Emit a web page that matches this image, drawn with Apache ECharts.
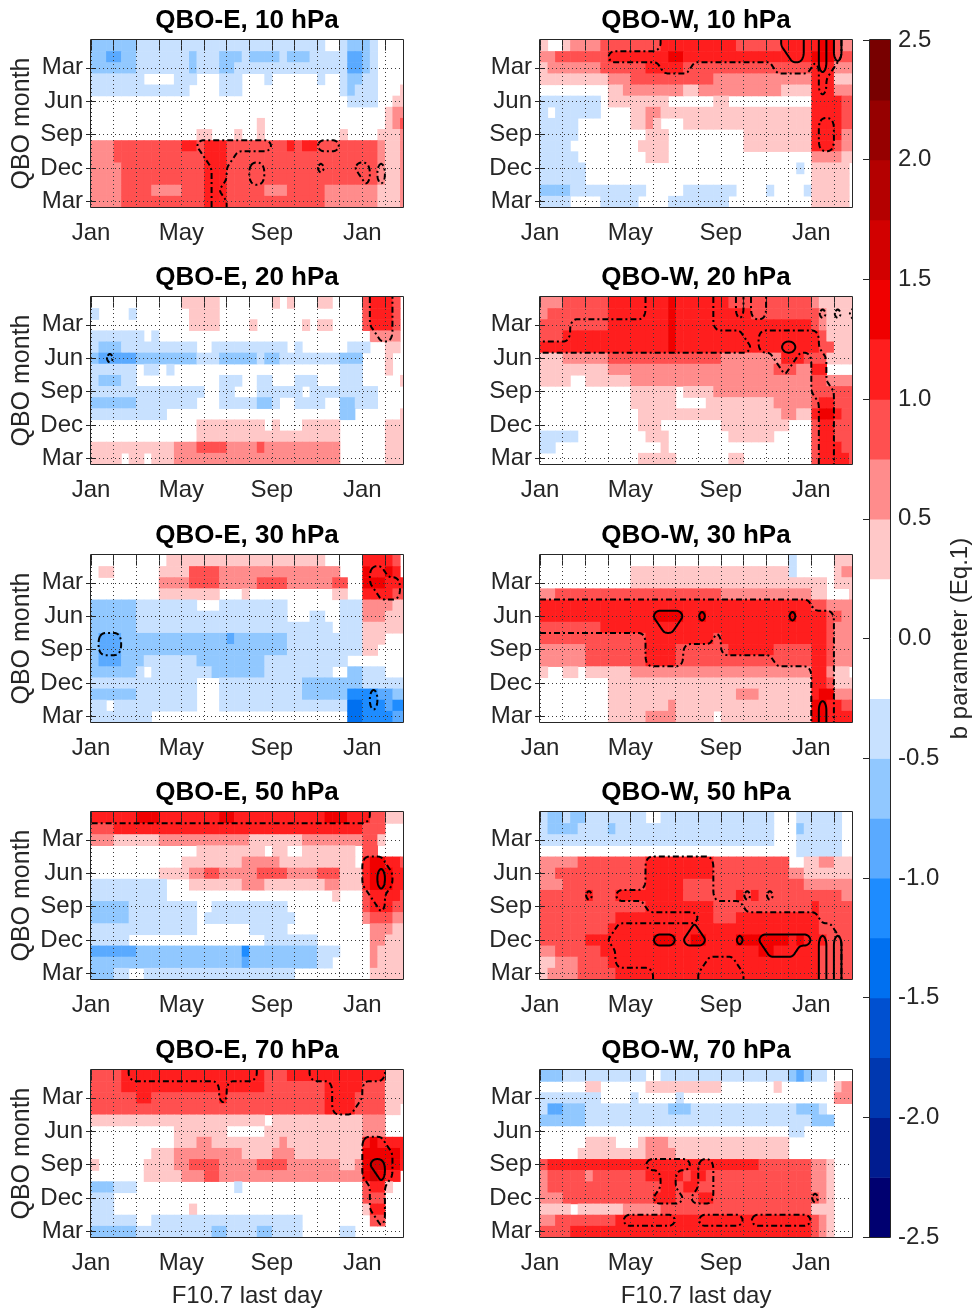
<!DOCTYPE html>
<html>
<head>
<meta charset="utf-8">
<script src="https://cdn.jsdelivr.net/npm/echarts@6/dist/echarts.min.js"></script>
<style>
html,body{margin:0;padding:0;background:#ffffff;}
#chart{width:977px;height:1311px;}
</style>
</head>
<body>
<div id="chart"></div>
<script>
// ---------------- tick labels / categories ----------------
const monthNames = ['Jan','Feb','Mar','Apr','May','Jun','Jul','Aug','Sep','Oct','Nov','Dec','Jan','Feb'];
const xLabelMonths = [0, 4, 8, 12];
const qboTickValues = [2, 5, 8, 11, 14];
const qboTickLabels = ['Mar', 'Jun', 'Sep', 'Dec', 'Mar'];
const pressureLevels = [10, 20, 30, 50, 70];
const phaseNames = ['QBO-E', 'QBO-W'];
const colorbarLevels = [-2.5,-2.25,-2,-1.75,-1.5,-1.25,-1,-0.75,-0.5,-0.25,0,0.25,0.5,0.75,1,1.25,1.5,1.75,2,2.25];
const posColors = ['#ffffff','#ffc8c8','#ff8c8c','#ff5050','#ff1e1e','#f00000','#d20000','#b40000','#960000','#780000'];
const negColors = ['#ffffff','#c8e1ff','#91c8ff','#5aaaff','#1e8cff','#0070f0','#0050d0','#0038b0','#001c90','#000070'];

// ---------------- data: b parameter, 15 QBO months x 42 ten-day bins (run-length: symbol+count) -----
// '0' |b|<0.25 ; '1'..'9' positive class ; 'a'..'i' negative class (0.25 steps)
const E10 = [
 "b6 a25 02 a b3 a 04",
 "b2 c2 b2 a7 b a3 b3 a b4 a b3 a5 c2 b a 04",
 "b6 a7 b a3 b2 a15 c2 b a 04",
 "a7 04 a3 03 a3 03 a 06 a 02 a b2 a2 04",
 "a13 04 a3 013 a b a3 03 1",
 "034 a4 02 12",
 "039 1 22",
 "022 1 016 1 2 3",
 "014 12 03 1 02 1 010 1 04 13 2",
 "23 3 38 42 3 43 38 4 3 42 37 3 2 1 1 2",
 "23 3 311 43 319 3 2 12 2",
 "24 311 43 319 3 2 12 2",
 "24 311 43 319 3 2 12 2",
 "24 34 24 33 43 35 23 35 26 2 13 2",
 "24 311 43 313 26 2 13 2"
];
const W10 = [
 "1 02 1 24 38 410 36 45 52 3 22",
 "22 37 48 52 417 53 33",
 "1 27 36 45 317 43 23",
 "19 23 311 213 43 13",
 "09 12 28 12 211 14 43 23",
 "a8 0 18 06 12 011 44 32",
 "a 0 a6 04 12 22 120 44 32",
 "a5 07 12 2 1 03 117 44 32",
 "a5 09 13 010 19 44 22",
 "a4 09 14 010 19 43 3 22",
 "a5 09 13 019 24 12",
 "a6 028 a 0 15 0",
 "a6 030 15 0",
 "b4 a10 05 a7 04 a 04 a 15 0",
 "a4 04 a5 04 a8 011 15 0"
];
const E20 = [
 "012 1 14 07 1 0 1 03 12 04 3 43 3 0",
 "a 04 a 07 14 019 3 43 3 0",
 "013 14 04 1 06 1 0 12 04 3 43 3 0",
 "a7 0 a 028 24 0",
 "a b3 a10 02 a10 0 a 06 a3 02 12 0",
 "b c5 b b7 a3 b5 a b2 a8 b3 03 1 02",
 "a6 0 a2 0 a 022 a3 03 1 02",
 "a b3 a2 011 a3 02 a2 03 a3 03 a3 05 1",
 "a15 02 a2 03 a6 0 a9 04",
 "b6 a8 03 a5 b2 a 02 a4 02 b2 a3 04",
 "a10 023 b2 06 1",
 "014 19 0 1 03 15 06 13",
 "014 119 06 13",
 "111 23 34 24 3 210 06 13",
 "14 0 12 0 13 222 06 13"
];
const W20 = [
 "23 36 46 42 5 44 43 33 34 34 2 14 1",
 "2 38 46 42 5 44 43 43 34 34 3 2 13 1",
 "39 48 5 412 44 42 3 2 13 1",
 "33 414 5 418 4 3 14",
 "417 5 418 4 32 12 1",
 "13 26 315 28 43 32 3 14",
 "19 222 33 22 42 04",
 "14 02 13 13 220 24 32 24",
 "012 16 0 14 29 24 34 32",
 "012 16 04 19 25 3 42 33",
 "013 119 22 12 4 52 4 32",
 "013 13 08 19 03 3 42 33",
 "a5 09 13 08 16 05 3 42 33",
 "a2 014 1 019 3 43 32",
 "013 15 07 12 09 3 44 3"
];
const E30 = [
 "010 121 05 44 3 0",
 "0 12 06 14 34 26 28 22 03 5 42 5 4 0",
 "09 24 34 25 34 26 32 02 53 4 42",
 "09 18 03 1 011 12 02 44 32",
 "b6 a8 03 a9 07 a3 24 12",
 "b6 a20 03 a2 02 a3 23 13",
 "b6 a11 a9 a6 0 a3 16",
 "b c3 b14 c b7 a7 a3 13 03",
 "b c3 b2 b20 a10 1 1 04",
 "b c3 b3 a7 b3 b6 a3 a8 02 06",
 "b6 a 0 a8 b7 a9 02 b2 a3 03",
 "a14 03 a11 b6 b2 a4 a2",
 "b6 a8 03 a11 b6 d4 c2 b2",
 "a2 0 a3 a8 03 a17 e2 d3 c d2",
 "a8 026 e2 d4 c2"
];
const W30 = [
 "033 a 05 13",
 "012 121 a 05 1 22",
 "012 126 0 13",
 "22 322 212 12 0 02 1",
 "436 32 23 2",
 "415 54 42 5 411 5 42 42 32 22",
 "38 428 42 3 23",
 "314 45 44 3 412 42 3 23",
 "26 38 44 37 46 35 42 3 23",
 "26 38 44 318 42 3 23",
 "1 02 12 0 16 224 42 2 12 0",
 "09 127 42 3 13",
 "09 117 23 17 4 5 5 23",
 "09 18 2 118 52 42 32",
 "09 15 24 15 0 112 52 44"
];
const E50 = [
 "46 53 48 52 412 53 42 4 3 3 13",
 "33 433 33 03",
 "23 16 212 17 26 22 3 3 1 03",
 "014 19 0 12 02 17 0 3 3 04",
 "012 18 25 110 0 4 52 42 3",
 "09 14 22 32 25 34 24 33 13 4 52 5 42",
 "a10 03 17 23 18 22 13 4 53 42",
 "a10 022 1 03 3 44 3",
 "b5 a9 02 a10 010 3 43 32",
 "b5 a9 0 a12 09 2 3 32 22",
 "a14 07 a5 011 2 22 12",
 "a5 018 a7 07 2 2 13",
 "c6 b14 d b9 a3 04 2 14",
 "b20 c b9 a2 05 2 14",
 "b3 a2 02 a20 010 1 14"
];
const W50 = [
 "a b2 a b2 a8 02 a15 03 a6 02",
 "a b4 a4 b a21 03 b a5 02",
 "a31 03 a6 02",
 "034 a6 02",
 "25 39 49 310 02 12 22 12 1",
 "22 312 49 310 22 15 12",
 "23 311 45 314 32 25 22",
 "36 4 33 44 45 37 4 3 4 36 35 22",
 "314 49 313 4 35",
 "310 413 33 49 42 35",
 "39 428 35",
 "36 43 46 53 42 52 44 57 4 5 4 42 34",
 "22 36 45 416 52 46 35",
 "12 23 34 428 35",
 "1 24 35 427 35"
];
const E70 = [
 "34 411 48 33 410 4 42 13",
 "34 419 38 45 32 3 13",
 "36 42 39 4 313 44 34 13",
 "331 44 34 12 0",
 "123 0 112 23 03",
 "011 17 05 113 23 03",
 "011 13 22 19 2 110 4 5 42 42",
 "08 13 29 14 23 18 1 5 52 52 4",
 "1 06 14 22 34 25 34 27 12 2 5 62 52 4",
 "07 15 23 32 218 2 5 6 5 42 0",
 "b3 a3 013 a 016 3 42 1 02",
 "a3 033 3 32 03",
 "a3 010 1 022 1 42 03",
 "a6 02 a19 a 08 0 32 03",
 "b6 a10 b2 a4 b2 a4 05 a2 07"
];
const W70 = [
 "b3 a11 02 a17 b c b a2 04",
 "06 12 06 110 07 1 07 1 22",
 "a8 04 a 05 a 020 23",
 "a c2 b3 a11 b3 a13 a b3 a 04",
 "b6 a30 b3 03",
 "033 a2 07",
 "06 14 03 1 23 116 09",
 "05 18 1 24 115 09",
 "3 428 37 22 1 03",
 "2 35 2 37 45 3 42 314 22 1 03",
 "2 35 310 42 3 42 315 22 1 03",
 "23 312 43 33 42 313 3 2 1 03",
 "14 0 16 25 320 1 1 1 03",
 "22 33 35 426 3 2 1 03",
 "34 432 3 2 1 03"
];

// ---------------- significance regions: [row, firstCol, lastCol, level] (1 = dashed, 2 = solid) -------
const E10_sig = [[9,14,23,1],[10,15,18,1],[11,16,17,1],[12,16,17,1],[13,16,16,1],[14,16,17,1],[11,21,22,1],[12,21,22,1],[9,30,32,1],[11,30,30,1],[11,35,35,1],[11,36,36,1],[12,36,36,1],[11,38,38,1],[12,38,38,1]];
const W10_sig = [[1,9,15,1],[0,16,36,1],[1,16,36,1],[2,16,19,1],[2,31,35,1],[0,37,39,1],[1,37,39,1],[2,37,38,1],[3,37,37,1],[4,37,37,1],[7,37,38,1],[8,37,38,1],[9,37,38,1],[0,32,34,2],[1,33,34,2],[0,37,37,2],[1,37,37,2],[2,37,37,2],[0,39,39,2],[1,39,39,2]];
const E20_sig = [[0,37,39,1],[1,37,39,1],[2,37,39,1],[3,38,39,1],[5,2,2,1]];
const W20_sig = [[0,14,22,1],[1,14,22,1],[2,4,22,1],[3,4,26,1],[4,0,27,1],[0,26,26,1],[1,26,26,1],[0,28,29,1],[1,28,29,1],[1,37,37,1],[1,39,39,1],[1,41,41,1],[3,29,36,1],[4,29,36,1],[5,31,33,1],[6,32,32,1],[4,32,33,2],[5,36,37,1],[6,36,37,1],[7,36,37,1],[8,36,38,1],[9,37,38,1],[10,37,38,1],[11,37,38,1],[12,37,38,1],[13,37,38,1],[14,37,38,1]];
const E30_sig = [[7,1,3,1],[8,1,3,1],[1,37,38,1],[2,37,40,1],[3,38,40,1],[12,37,37,1],[13,37,37,1]];
const W30_sig = [[4,0,35,1],[5,0,38,1],[6,0,38,1],[7,14,22,1],[7,24,38,1],[8,14,18,1],[8,24,35,1],[9,14,18,1],[9,31,35,1],[8,36,38,1],[9,36,38,1],[10,36,38,1],[11,36,38,1],[12,36,38,1],[13,36,38,1],[14,36,38,1],[5,15,18,2],[6,16,17,2],[5,21,21,2],[5,33,33,2],[13,37,37,2],[14,37,37,2]];
const E50_sig = [[0,0,36,1],[4,36,38,1],[5,36,39,1],[6,36,39,1],[7,37,38,1],[8,38,38,1],[5,38,38,2],[6,38,38,2]];
const W50_sig = [[4,14,22,1],[5,14,22,1],[6,14,22,1],[7,14,22,1],[8,14,26,1],[7,6,6,1],[7,10,13,1],[7,27,27,1],[7,30,30,1],[9,21,36,1],[10,10,38,1],[11,9,39,1],[12,10,39,1],[13,10,21,1],[13,26,39,1],[14,15,20,1],[14,27,39,1],[11,15,17,2],[10,20,20,2],[11,19,21,2],[11,26,26,2],[11,29,34,2],[12,30,33,2],[11,35,35,2],[11,37,37,2],[12,37,37,2],[13,37,37,2],[14,37,37,2],[11,39,39,2],[12,39,39,2],[13,39,39,2],[14,39,39,2]];
const E70_sig = [[0,5,21,1],[1,17,17,1],[2,17,17,1],[0,29,38,1],[1,32,35,1],[2,32,35,1],[3,32,34,1],[6,36,38,1],[7,36,39,1],[8,36,39,1],[9,36,39,1],[10,37,38,1],[11,37,38,1],[12,37,38,1],[13,38,38,1],[8,37,38,2],[9,38,38,2]];
const W70_sig = [[8,14,19,1],[9,16,17,1],[10,16,17,1],[11,15,18,1],[8,21,22,1],[9,21,22,1],[10,21,22,1],[11,20,22,1],[13,11,17,1],[13,21,26,1],[13,28,35,1],[11,36,36,1]];

const panelValues = [E10, W10, E20, W20, E30, W30, E50, W50, E70, W70];
const panelSig = [E10_sig, W10_sig, E20_sig, W20_sig, E30_sig, W30_sig, E50_sig, W50_sig, E70_sig, W70_sig];

// ---------------- layout ----------------
const NCOL = 42, NROW = 15, X_MAX = 13.8;
const colLeft = [91, 540], rowTop = [40, 297, 555, 812, 1070], PW = 312, PH = 167;
const CB = {left: 870, top: 40, width: 20, height: 1197};
const FONT = '"Liberation Sans", Arial, Helvetica, sans-serif';
const TXT = '#262626';

function codeToValue(ch) {
  if (ch === '0') return 0;
  if (ch >= '1' && ch <= '9') return (+ch) * 0.25 + 0.125;
  const k = ch.charCodeAt(0) - 96;
  return -(k * 0.25 + 0.125);
}
function decodeRow(s) {
  const out = [];
  s.trim().split(/\s+/).forEach(function (tok) {
    const ch = tok.charAt(0);
    const n = tok.length > 1 ? parseInt(tok.slice(1), 10) : 1;
    for (let k = 0; k < n; k++) out.push(ch);
  });
  while (out.length < NCOL) out.push(out.length ? out[out.length - 1] : '0');
  return out.slice(0, NCOL).map(codeToValue);
}
function colorOf(v) {
  const lvl = Math.min(9, Math.floor(Math.abs(v) / 0.25 + 1e-9));
  return v >= 0 ? posColors[lvl] : negColors[lvl];
}
function buildMask(runs, level) {
  const m = [];
  for (let r = 0; r < NROW; r++) m.push(new Array(NCOL).fill(0));
  runs.forEach(function (q) { if (q[3] >= level) for (let c = q[1]; c <= q[2]; c++) m[q[0]][c] = 1; });
  return m;
}
function joinSegments(segs) {
  const key = p => p[0].toFixed(5) + ',' + p[1].toFixed(5);
  const map = new Map();
  segs.forEach(function (s, k) {
    [0, 1].forEach(function (e) { const kk = key(s[e]); if (!map.has(kk)) map.set(kk, []); map.get(kk).push(k); });
  });
  const used = new Array(segs.length).fill(false);
  const lines = [];
  for (let k = 0; k < segs.length; k++) {
    if (used[k]) continue;
    used[k] = true;
    const line = [segs[k][0], segs[k][1]];
    const extend = function (atEnd) {
      while (true) {
        const p = atEnd ? line[line.length - 1] : line[0];
        const cand = (map.get(key(p)) || []).find(q => !used[q]);
        if (cand === undefined) break;
        used[cand] = true;
        const s = segs[cand];
        const other = key(s[0]) === key(p) ? s[1] : s[0];
        if (atEnd) line.push(other); else line.unshift(other);
      }
    };
    extend(true); extend(false);
    lines.push(line);
  }
  return lines;
}
function chaikin(pts, closed, iter) {
  let p = pts;
  for (let it = 0; it < iter; it++) {
    const out = [];
    if (closed) {
      const q = p.slice(0, p.length - 1);
      for (let i = 0; i < q.length; i++) {
        const a = q[i], b = q[(i + 1) % q.length];
        out.push([0.75 * a[0] + 0.25 * b[0], 0.75 * a[1] + 0.25 * b[1]]);
        out.push([0.25 * a[0] + 0.75 * b[0], 0.25 * a[1] + 0.75 * b[1]]);
      }
      out.push(out[0]);
    } else {
      out.push(p[0]);
      for (let i = 0; i < p.length - 1; i++) {
        const a = p[i], b = p[i + 1];
        out.push([0.75 * a[0] + 0.25 * b[0], 0.75 * a[1] + 0.25 * b[1]]);
        out.push([0.25 * a[0] + 0.75 * b[0], 0.25 * a[1] + 0.75 * b[1]]);
      }
      out.push(p[p.length - 1]);
    }
    p = out;
  }
  return p;
}
function contourLines(mask) {
  const R = NROW + 2, C = NCOL + 2;
  const val = function (i, j) {
    const r = Math.min(NROW - 1, Math.max(0, i - 1)), c = Math.min(NCOL - 1, Math.max(0, j - 1));
    return mask[r][c];
  };
  const X = j => j === 0 ? 0 : (j === C - 1 ? NCOL / 3 : (j - 0.5) / 3);
  const Y = i => i === 0 ? -0.5 : (i === R - 1 ? NROW - 0.5 : i - 1);
  const segs = [];
  for (let i = 0; i < R - 1; i++) {
    for (let j = 0; j < C - 1; j++) {
      const tl = val(i, j), tr = val(i, j + 1), br = val(i + 1, j + 1), bl = val(i + 1, j);
      const idx = tl * 8 + tr * 4 + br * 2 + bl;
      if (idx === 0 || idx === 15) continue;
      const xm = (X(j) + X(j + 1)) / 2, ym = (Y(i) + Y(i + 1)) / 2;
      const T = [xm, Y(i)], B = [xm, Y(i + 1)], L = [X(j), ym], Rr = [X(j + 1), ym];
      const table = {1: [[L, B]], 2: [[B, Rr]], 3: [[L, Rr]], 4: [[T, Rr]], 5: [[T, Rr], [L, B]], 6: [[T, B]],
        7: [[L, T]], 8: [[L, T]], 9: [[T, B]], 10: [[L, T], [B, Rr]], 11: [[T, Rr]], 12: [[L, Rr]], 13: [[B, Rr]], 14: [[L, B]]};
      table[idx].forEach(s => segs.push(s));
    }
  }
  const keyOf = p => p[0].toFixed(5) + ',' + p[1].toFixed(5);
  return joinSegments(segs).map(function (line) {
    const closed = line.length > 3 && keyOf(line[0]) === keyOf(line[line.length - 1]);
    return chaikin(line, closed, 3);
  });
}

function renderCell(params, api) {
  const c = api.value(3), r = api.value(1), v = api.value(2);
  const p0 = api.coord([c / 3, r - 0.5]);
  const p1 = api.coord([(c + 1) / 3, r + 0.5]);
  const x = Math.min(p0[0], p1[0]), y = Math.min(p0[1], p1[1]);
  return {
    type: 'rect',
    shape: {x: x, y: y, width: Math.abs(p1[0] - p0[0]) + 0.6, height: Math.abs(p1[1] - p0[1]) + 0.6},
    style: {fill: colorOf(v)}
  };
}
function contourSeries(i, lines, dash) {
  return {
    type: 'custom', xAxisIndex: i, yAxisIndex: i, z: 4, clip: true, silent: true,
    data: lines.map((l, k) => [l[0][0], l[0][1], k]),
    encode: {x: 0, y: 1},
    renderItem: function (params, api) {
      const pl = lines[params.dataIndex];
      return {
        type: 'polyline',
        shape: {points: pl.map(p => api.coord(p))},
        style: {stroke: '#000000', lineWidth: 2, lineDash: dash, fill: 'none'}
      };
    }
  };
}

const grids = [], xAxes = [], yAxes = [], series = [], graphics = [];
const mirrorX = [], mirrorY = [];
for (let row = 0; row < 5; row++) {
  for (let col = 0; col < 2; col++) {
    const i = row * 2 + col;
    const L = colLeft[col], T = rowTop[row];
    grids.push({left: L, top: T, width: PW, height: PH});
    xAxes.push({
      type: 'value', gridIndex: i, min: 0, max: X_MAX, interval: 1, z: 3,
      axisLine: {show: false},
      axisTick: {show: true, inside: true, length: 5, lineStyle: {color: TXT, width: 1}},
      axisLabel: {
        fontSize: 24, color: TXT, margin: 14, fontFamily: FONT,
        formatter: function (v) {
          const m = Math.round(v);
          return (Math.abs(v - m) < 1e-6 && xLabelMonths.indexOf(m) >= 0) ? monthNames[m] : '';
        }
      },
      splitLine: {show: true, lineStyle: {color: '#3a3a3a', type: [1, 3], width: 1}},
      name: row === 4 ? 'F10.7 last day' : '', nameLocation: 'middle', nameGap: 47,
      nameTextStyle: {fontSize: 24, color: TXT, fontFamily: FONT}
    });
    yAxes.push({
      type: 'value', gridIndex: i, min: -0.5, max: NROW - 0.5, inverse: true, z: 3,
      axisLine: {show: false},
      axisTick: {show: true, inside: true, length: 5, customValues: qboTickValues, lineStyle: {color: TXT, width: 1}},
      axisLabel: {
        customValues: qboTickValues, fontSize: 24, color: TXT, margin: 8, fontFamily: FONT,
        formatter: function (v) { const k = qboTickValues.indexOf(Math.round(v)); return k >= 0 ? qboTickLabels[k] : ''; }
      },
      splitLine: {show: true, lineStyle: {color: '#3a3a3a', type: [1, 3], width: 1}},
      name: col === 0 ? 'QBO month' : '', nameLocation: 'middle', nameGap: 56, nameRotate: 90,
      nameTextStyle: {fontSize: 25, color: TXT, fontFamily: FONT}
    });
    // mirrored tick marks on the top and right edges (box style)
    mirrorX.push({
      type: 'value', gridIndex: i, min: 0, max: X_MAX, interval: 1, position: 'top', z: 3,
      axisLine: {show: false}, axisLabel: {show: false}, splitLine: {show: false},
      axisTick: {show: true, inside: true, length: 5, lineStyle: {color: TXT, width: 1}}
    });
    mirrorY.push({
      type: 'value', gridIndex: i, min: -0.5, max: NROW - 0.5, inverse: true, position: 'right', z: 3,
      axisLine: {show: false}, axisLabel: {show: false, customValues: qboTickValues}, splitLine: {show: false},
      axisTick: {show: true, inside: true, length: 5, customValues: qboTickValues, lineStyle: {color: TXT, width: 1}}
    });
    // cells
    const rows = panelValues[i].map(decodeRow);
    const cells = [];
    rows.forEach(function (vals, r) {
      vals.forEach(function (v, c) { if (Math.abs(v) >= 0.25) cells.push([(c + 0.5) / 3, r, v, c]); });
    });
    series.push({
      type: 'custom', xAxisIndex: i, yAxisIndex: i, z: 2, clip: true, silent: true,
      data: cells, encode: {x: 0, y: 1}, renderItem: renderCell
    });
    // significance contours
    const dashLines = contourLines(buildMask(panelSig[i], 1));
    const solidLines = contourLines(buildMask(panelSig[i], 2));
    if (dashLines.length) series.push(contourSeries(i, dashLines, [6, 3, 2, 3]));
    if (solidLines.length) series.push(contourSeries(i, solidLines, null));
    // title and frame
    graphics.push({
      type: 'text', z: 100, silent: true, x: L + PW / 2, y: T - 19,
      style: {text: phaseNames[col] + ', ' + pressureLevels[row] + ' hPa', fill: '#000000',
        font: 'bold 26px ' + FONT, align: 'center', verticalAlign: 'middle', textAlign: 'center', textVerticalAlign: 'middle'}
    });
    graphics.push({
      type: 'rect', z: 100, silent: true,
      shape: {x: L - 0.5, y: T - 0.5, width: PW + 1, height: PH + 1},
      style: {fill: 'none', stroke: TXT, lineWidth: 1}
    });
  }
}
// colorbar
const cbIndex = 10;
grids.push({left: CB.left, top: CB.top, width: CB.width, height: CB.height});
xAxes.push({type: 'value', gridIndex: cbIndex, min: 0, max: 1, show: false});
yAxes.push({
  type: 'value', gridIndex: cbIndex, min: -2.5, max: 2.5, interval: 0.5, position: 'right', z: 3,
  axisLine: {show: false},
  axisTick: {show: true, inside: true, length: 7, lineStyle: {color: TXT, width: 1}},
  axisLabel: {fontSize: 24, color: TXT, margin: 8, fontFamily: FONT, formatter: v => (Math.abs(v) < 1e-9 ? 0 : v).toFixed(1)},
  splitLine: {show: false},
  name: 'b parameter (Eq.1)', nameLocation: 'middle', nameGap: 58, nameRotate: 90,
  nameTextStyle: {fontSize: 24, color: TXT, fontFamily: FONT}
});
series.push({
  type: 'custom', xAxisIndex: cbIndex, yAxisIndex: cbIndex, z: 2, silent: true,
  data: colorbarLevels.map(v => [0.5, v + 0.125]), encode: {x: 0, y: 1},
  renderItem: function (params, api) {
    const v = colorbarLevels[params.dataIndex];
    const p0 = api.coord([0, v]), p1 = api.coord([1, v + 0.25]);
    return {type: 'rect', shape: {x: p0[0], y: Math.min(p0[1], p1[1]), width: p1[0] - p0[0], height: Math.abs(p1[1] - p0[1]) + 0.6},
      style: {fill: colorOf(v + 0.125)}};
  }
});
graphics.push({
  type: 'rect', z: 100, silent: true,
  shape: {x: CB.left - 0.5, y: CB.top - 0.5, width: CB.width + 1, height: CB.height + 1},
  style: {fill: 'none', stroke: TXT, lineWidth: 1}
});

const chart = echarts.init(document.getElementById('chart'), null, {renderer: 'canvas'});
chart.setOption({
  backgroundColor: '#ffffff',
  animation: false,
  grid: grids,
  xAxis: xAxes.concat(mirrorX),
  yAxis: yAxes.concat(mirrorY),
  series: series,
  graphic: {elements: graphics}
});
</script>
</body>
</html>
